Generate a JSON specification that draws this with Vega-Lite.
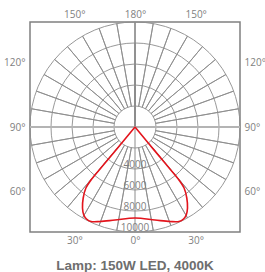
{
  "$schema": "https://vega.github.io/schema/vega-lite/v6.json",
  "width": 210,
  "height": 210,
  "autosize": "none",
  "padding": {"left": 30, "top": 22, "right": 25, "bottom": 40},
  "background": "white",
  "title": {"text": "Lamp: 150W LED, 4000K", "orient": "bottom", "anchor": "middle", "font": "Liberation Sans", "fontSize": 13.5, "fontWeight": "bold", "color": "#6e6e6e", "offset": 14},
  "config": {
    "view": {"stroke": "#808080", "strokeWidth": 1.5},
    "axis": {"domain": false, "ticks": false, "grid": false, "title": null, "labelFont": "Open Sans", "labelFontSize": 10, "labelColor": "#7f7f7f"}
  },
  "datasets": {
    "rings": [{"r": 2000}, {"r": 4000}, {"r": 6000}, {"r": 8000}, {"r": 10000}],
    "spokes": [{"a": 10}, {"a": 20}, {"a": 30}, {"a": 40}, {"a": 50}, {"a": 60}, {"a": 70}, {"a": 80}, {"a": 100}, {"a": 110}, {"a": 120}, {"a": 130}, {"a": 140}, {"a": 150}, {"a": 160}, {"a": 170}, {"a": 190}, {"a": 200}, {"a": 210}, {"a": 220}, {"a": 230}, {"a": 240}, {"a": 250}, {"a": 260}, {"a": 280}, {"a": 290}, {"a": 300}, {"a": 310}, {"a": 320}, {"a": 330}, {"a": 340}, {"a": 350}],
    "ringLabels": [{"label": "4000", "r": 4000}, {"label": "6000", "r": 6000}, {"label": "8000", "r": 8000}, {"label": "10000", "r": 10000}],
    "curve": [
      {"i": 0, "x": 0, "y": 0},
      {"i": 1, "x": -1397, "y": 1683},
      {"i": 2, "x": -2793, "y": 3365},
      {"i": 3, "x": -4190, "y": 5048},
      {"i": 4, "x": -4676, "y": 5810},
      {"i": 5, "x": -4933, "y": 6762},
      {"i": 6, "x": -5000, "y": 7714},
      {"i": 7, "x": -4886, "y": 8352},
      {"i": 8, "x": -4619, "y": 8762},
      {"i": 9, "x": -4190, "y": 9000},
      {"i": 10, "x": -3333, "y": 9000},
      {"i": 11, "x": -1905, "y": 8857},
      {"i": 12, "x": 0, "y": 8667},
      {"i": 13, "x": 1905, "y": 8857},
      {"i": 14, "x": 3333, "y": 9000},
      {"i": 15, "x": 4190, "y": 9000},
      {"i": 16, "x": 4619, "y": 8762},
      {"i": 17, "x": 4886, "y": 8352},
      {"i": 18, "x": 5000, "y": 7714},
      {"i": 19, "x": 4933, "y": 6762},
      {"i": 20, "x": 4676, "y": 5810},
      {"i": 21, "x": 4190, "y": 5048},
      {"i": 22, "x": 2793, "y": 3365},
      {"i": 23, "x": 1397, "y": 1683},
      {"i": 24, "x": 0, "y": 0}
    ]
  },
  "resolve": {"axis": {"x": "independent", "y": "independent"}},
  "layer": [
    {
      "data": {"name": "rings"},
      "mark": {"type": "arc", "filled": false, "stroke": "#8c8c8c", "strokeWidth": 0.9},
      "encoding": {
        "theta": {"value": 0},
        "theta2": {"value": 6.2831853},
        "radius": {"field": "r", "type": "quantitative", "stack": null, "scale": {"type": "linear", "domain": [0, 10000], "range": [0, 105], "zero": true, "nice": false}}
      }
    },
    {
      "data": {"name": "spokes"},
      "mark": {"type": "arc", "filled": false, "stroke": "#8c8c8c", "strokeWidth": 0.9},
      "encoding": {
        "theta": {"field": "a", "type": "quantitative", "stack": null, "scale": {"type": "linear", "domain": [0, 360], "range": [0, 6.2831853], "nice": false, "zero": true}},
        "theta2": {"field": "a"},
        "radius": {"datum": 10000, "type": "quantitative", "stack": null, "scale": {"type": "linear", "domain": [0, 10000], "range": [0, 105], "zero": true, "nice": false}},
        "radius2": {"datum": 2000}
      }
    },
    {
      "data": {"values": [{}]},
      "mark": {"type": "rule", "stroke": "#b4b4b4", "strokeWidth": 2},
      "encoding": {
        "y": {"datum": 0, "type": "quantitative", "scale": {"domain": [-10000, 10000], "reverse": true, "nice": false, "zero": false},
          "axis": {"orient": "left", "values": [-6100, 0, 6100], "labelPadding": 5, "labelExpr": "datum.value < 0 ? '120°' : datum.value > 0 ? '60°' : '90°'"}}
      }
    },
    {
      "data": {"values": [{}]},
      "mark": {"type": "rule", "stroke": "#8c8c8c", "strokeWidth": 1},
      "encoding": {
        "x": {"datum": 0, "type": "quantitative", "scale": {"domain": [-10000, 10000], "nice": false, "zero": false},
          "axis": {"orient": "top", "values": [-5780, 0, 5780], "labelPadding": 3, "labelExpr": "datum.value == 0 ? '180°' : '150°'"}}
      }
    },
    {
      "data": {"name": "ringLabels"},
      "mark": {"type": "text", "align": "center", "baseline": "alphabetic", "dy": -1, "font": "Open Sans", "fontSize": 10, "color": "#7f7f7f"},
      "encoding": {
        "x": {"datum": 0, "type": "quantitative", "axis": null},
        "y": {"field": "r", "type": "quantitative", "axis": null},
        "text": {"field": "label"}
      }
    },
    {
      "data": {"name": "curve"},
      "mark": {"type": "line", "interpolate": "catmull-rom", "stroke": "#e3141c", "strokeWidth": 1.6},
      "encoding": {
        "x": {"field": "x", "type": "quantitative", "scale": {"domain": [-10000, 10000], "nice": false, "zero": false},
          "axis": {"orient": "bottom", "values": [-5780, 0, 5780], "labelPadding": 3, "labelExpr": "datum.value == 0 ? '0°' : '30°'"}},
        "y": {"field": "y", "type": "quantitative", "scale": {"domain": [-10000, 10000], "reverse": true, "nice": false, "zero": false},
          "axis": {"orient": "right", "values": [-6100, 0, 6100], "labelPadding": 4, "labelExpr": "datum.value < 0 ? '120°' : datum.value > 0 ? '60°' : '90°'"}},
        "order": {"field": "i", "type": "quantitative"}
      }
    }
  ]
}
